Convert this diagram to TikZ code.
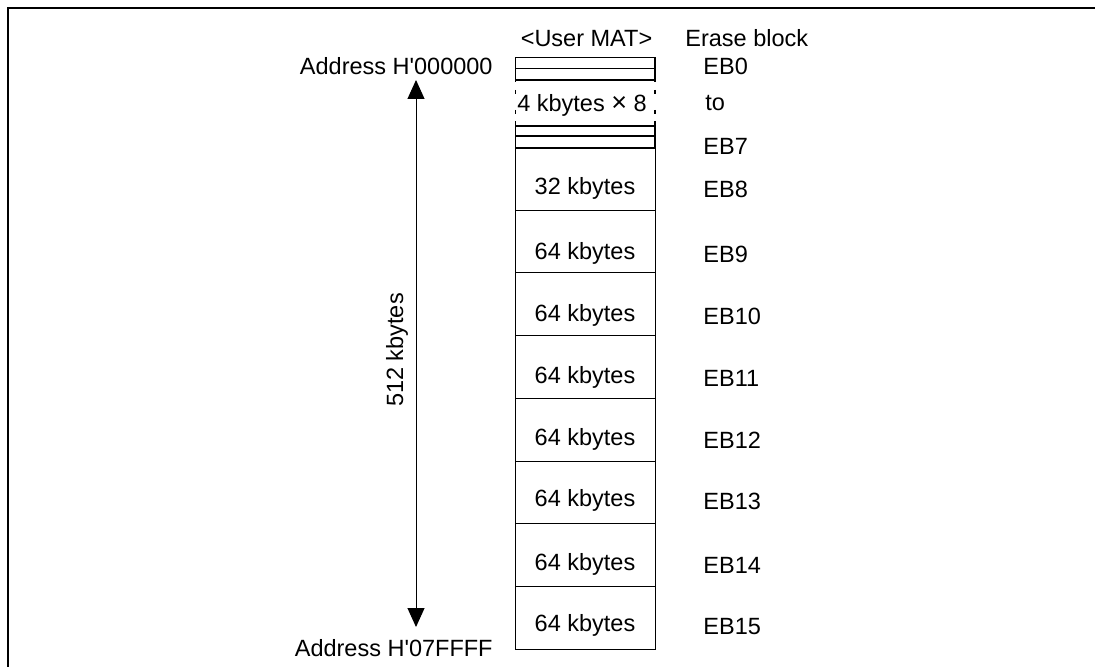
\documentclass[tikz,border=0pt]{standalone}
\usepackage{fontspec}
\setmainfont{Liberation Sans}
\usetikzlibrary{arrows.meta,positioning}
\tikzset{
  mattext/.style={font=\fontsize{11.75pt}{14pt}\selectfont, inner sep=0pt, anchor=base},
  ebtext/.style={mattext, anchor=base west},
  addrtext/.style={mattext, anchor=base east},
  matline/.style={draw=black, line width=0.5pt},
  subline/.style={draw=black, line width=0.65pt},
  subdash/.style={subline, dash pattern=on 2pt off 8pt},
  framing/.style={draw=black, line width=1pt},
  sizearrow/.style={{Triangle[width=8.5pt,length=9.5pt]}-{Triangle[width=8.5pt,length=9.5pt]}, line width=0.5pt},
}
\begin{document}
\begin{tikzpicture}[x=0.5pt, y=-0.5pt]
  \useasboundingbox (0,0) rectangle (1095,667);
  \draw[framing] (7.5,667) -- (7.5,8.5) -- (1095,8.5);
  % headings
  \node[mattext] (mat) at (586.5,47) {<User MAT>};
  \node[ebtext] (erase) at (685,47) {Erase block};
  % 4 kbyte blocks
  \draw[subline] (515.5,82) -- (515.5,57.5) -- (655,57.5) -- (655,82);
  \draw[subline] (515.5,121) -- (515.5,148) (655,121) -- (655,148);
  \draw[subdash] (515.5,90) -- (515.5,114) (655,90) -- (655,114);
  \foreach \y in {68.3,80,126,136,148}
    \draw[subline] (515.5,\y) -- (655,\y);
  \node[mattext] (kb4) at (582,112) {4 kbytes {\fontsize{13.5pt}{14pt}\selectfont×} 8};
  \node[ebtext] (eb0) at (703,75) {EB0};
  \node[ebtext] (ebto) at (705,111) {to};
  \node[ebtext] (eb7) at (703,155) {EB7};
  % large blocks
  \foreach \n/\top/\bot/\base/\kb in {8/148/210.5/195/32, 9/210.5/273/260/64,
      10/273/335.8/321.7/64, 11/335.8/398.5/383.3/64, 12/398.5/461/445/64,
      13/461/523.5/506.7/64, 14/523.5/586/570/64, 15/586/649/631.7/64} {
    \draw[matline] (515.5,\top) rectangle (655,\bot);
    \node[mattext] (blk\n) at (585,\base) {\kb\ kbytes};
    \node[ebtext] (eb\n) at (703,\base+3) {EB\n};
  }
  % address range
  \node[addrtext] (addrtop) at (493,75) {Address H\textquotesingle 000000};
  \node[addrtext] (addrbot) at (493,656) {Address H\textquotesingle 07FFFF};
  \coordinate (atop) at (416,80);
  \coordinate (abot) at (416,627);
  \draw[sizearrow] (atop) -- (abot);
  \node[mattext, rotate=90] (total) at (403,350) {512 kbytes};
\end{tikzpicture}
\end{document}
